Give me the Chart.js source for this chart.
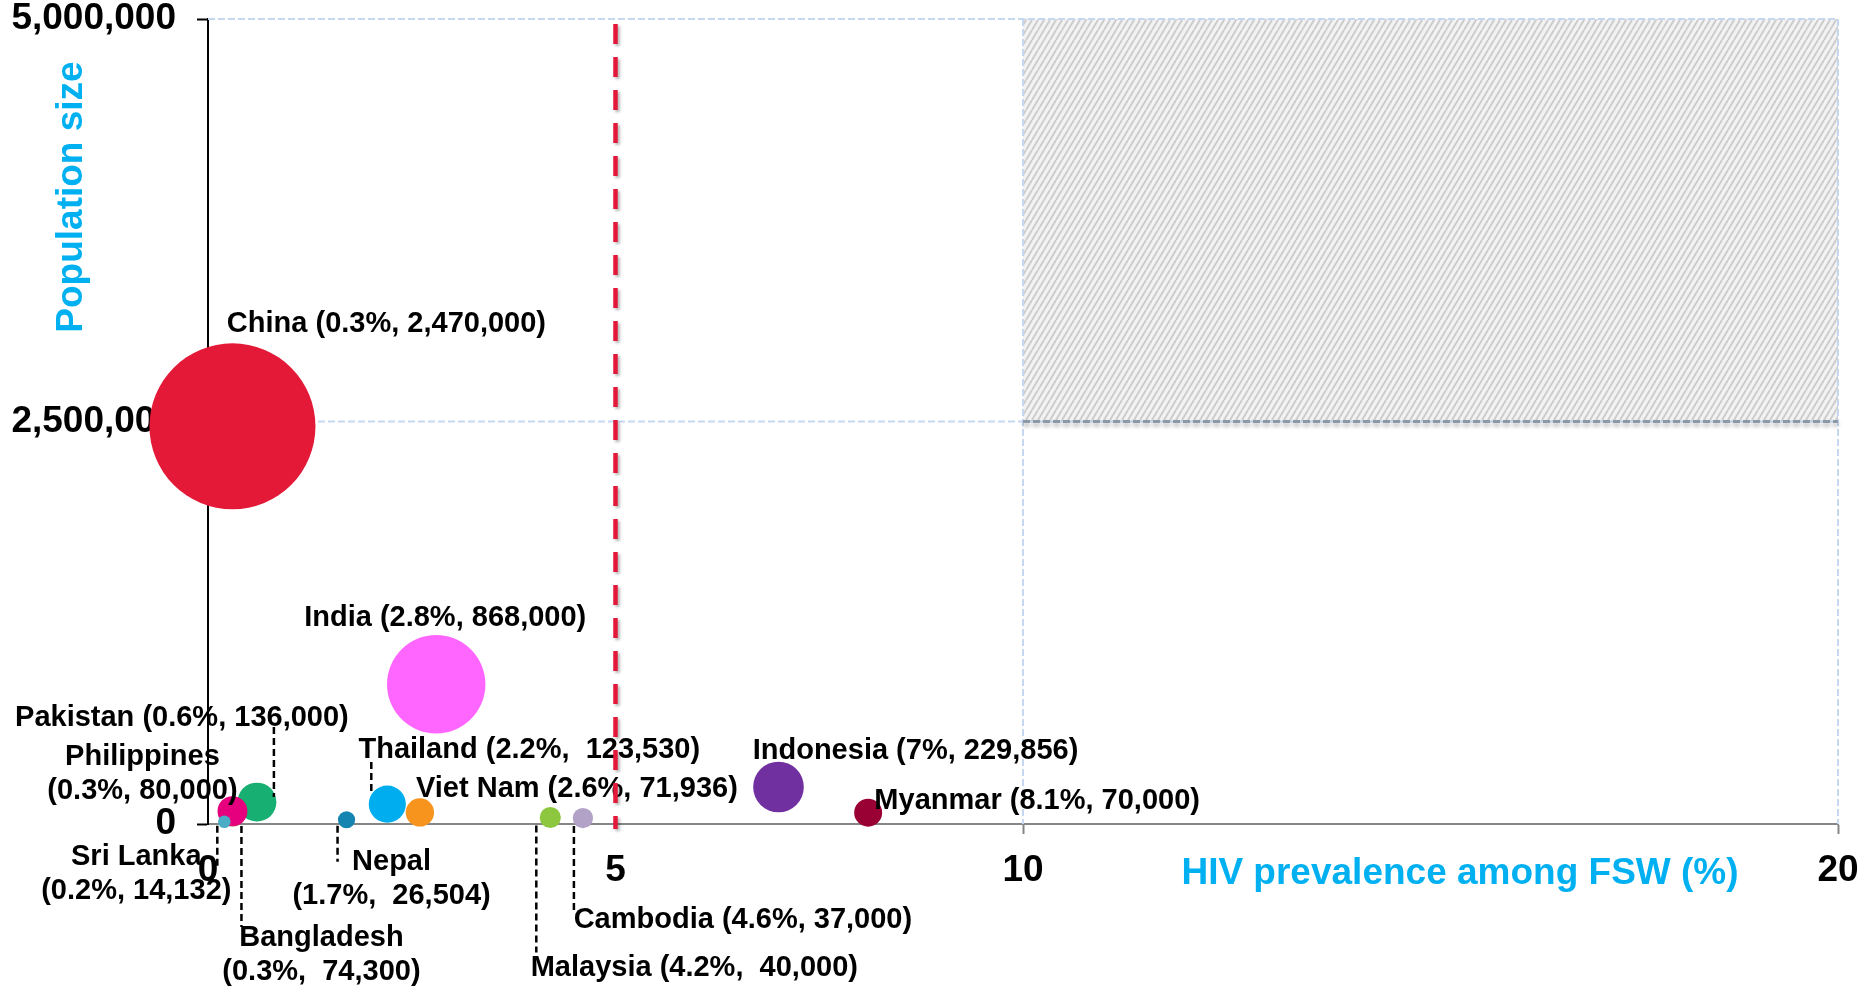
<!DOCTYPE html>
<html>
<head>
<meta charset="utf-8">
<title>FSW population size and HIV prevalence</title>
<script src="https://cdn.jsdelivr.net/npm/chart.js@4.4.0/dist/chart.umd.min.js"></script>
<style>
  html, body { margin: 0; padding: 0; background: #fff; }
  #wrap { position: relative; width: 1864px; height: 995px; }
</style>
</head>
<body>
<div id="wrap"><canvas id="fswChart"></canvas></div>
<script>
// data
const countries = ["China", "India", "Pakistan", "Bangladesh", "Philippines", "Sri Lanka", "Nepal", "Thailand", "Viet Nam", "Malaysia", "Cambodia", "Indonesia", "Myanmar"];
const prevalence = [0.3, 2.8, 0.6, 0.3, 0.3, 0.2, 1.7, 2.2, 2.6, 4.2, 4.6, 7, 8.1];
const popSize = [2470000, 868000, 136000, 74300, 80000, 14132, 26504, 123530, 71936, 40000, 37000, 229856, 70000];

const xTicks = [0, 5, 10, 20];
const yTicks = [0, 2500000, 5000000];
const gridX = [10, 20];
const gridY = [2500000, 5000000];
const zoneX = [10, 20];
const zoneY = [2500000, 5000000];
const thresholdX = 5;

const xTitle = "HIV prevalence among FSW (%)";
const yTitle = "Population size";

const bubbleColours = ["#E31937", "#FF66FF", "#17AF72", "#C0504D", "#E6007E", "#4BACC6", "#1584B0", "#00AEEF", "#F7941D", "#8DC63F", "#B3A2C7", "#7030A0", "#990033"];

const FONT = "'Liberation Sans', Arial, sans-serif";
const skyBlue = "#00B0F0";
const gridBlue = "#C6D8F0";

// where each label sits, relative to its bubble (px)
const labelSpots = {
  "China":       { dx: 154, dy: -102 },
  "India":       { dx: 9, dy: -66 },
  "Pakistan":    { dx: -75, dy: -84, leader: [17, -75, -5] },
  "Bangladesh":  { dx: 89, dy: 126, split: true, wide: true, leader: [9, 14, 115] },
  "Philippines": { dx: -90, dy: -54, split: true },
  "Sri Lanka":   { dx: -88, dy: 35, split: true, leader: [-7, 4, 48] },
  "Nepal":       { dx: 45, dy: 42, split: true, wide: true, leader: [-9, 6, 42] },
  "Thailand":    { dx: 142, dy: -54, wide: true, leader: [-16, -42, -11] },
  "Viet Nam":    { dx: 157, dy: -23 },
  "Malaysia":    { dx: 144, dy: 150, wide: true, leader: [-14, 8, 135] },
  "Cambodia":    { dx: 160, dy: 102, leader: [-9, 8, 95] },
  "Indonesia":   { dx: 137, dy: -36 },
  "Myanmar":     { dx: 169, dy: -12 }
};

// bubble area follows population size
const maxRadius = 83;
const biggest = Math.max(...popSize);
const bubbles = countries.map((c, i) => ({
  x: prevalence[i],
  y: popSize[i],
  r: maxRadius * Math.sqrt(popSize[i] / biggest)
}));

function labelLines(i) {
  const spot = labelSpots[countries[i]];
  const tail = "(" + prevalence[i] + "%," + (spot.wide ? "  " : " ") + popSize[i].toLocaleString("en-US") + ")";
  return spot.split ? [countries[i], tail] : [countries[i] + " " + tail];
}

function hatchPattern(ctx) {
  const tile = document.createElement("canvas");
  tile.width = 6;
  tile.height = 10;
  const t = tile.getContext("2d");
  t.fillStyle = "#f3f3f3";
  t.fillRect(0, 0, 6, 10);
  t.strokeStyle = "#cdcdcd";
  t.lineWidth = 2;
  t.beginPath();
  for (let k = -1; k <= 1; k++) {
    t.moveTo(k * 6, 10);
    t.lineTo(k * 6 + 6, 0);
  }
  t.stroke();
  return ctx.createPattern(tile, "repeat");
}

function seg(ctx, x1, y1, x2, y2) {
  ctx.beginPath();
  ctx.moveTo(x1, y1);
  ctx.lineTo(x2, y2);
  ctx.stroke();
}

const overlay = {
  id: "overlay",
  beforeDatasetsDraw(chart) {
    const { ctx, chartArea: area, scales: { x, y } } = chart;
    const zl = x.getPixelForValue(zoneX[0]), zr = x.getPixelForValue(zoneX[1]);
    const zt = y.getPixelForValue(zoneY[1]), zb = y.getPixelForValue(zoneY[0]);

    ctx.save();
    ctx.fillStyle = hatchPattern(ctx);
    ctx.fillRect(zl, zt, zr - zl, zb - zt);

    ctx.strokeStyle = gridBlue;
    ctx.lineWidth = 2;
    ctx.setLineDash([7, 3]);
    gridY.forEach(v => {
      const py = y.getPixelForValue(v);
      seg(ctx, area.left, py, area.right, py);
    });
    gridX.forEach(v => {
      const px = x.getPixelForValue(v);
      seg(ctx, px, area.top, px, area.bottom);
    });

    // shadowed lower edge of the zone
    ctx.shadowColor = "rgba(0,0,0,0.35)";
    ctx.shadowBlur = 4;
    ctx.shadowOffsetY = 3;
    ctx.strokeStyle = "#8D99A8";
    ctx.lineWidth = 3;
    seg(ctx, zl, zb, zr, zb);
    ctx.restore();
  },
  afterDatasetsDraw(chart) {
    const { ctx, chartArea: area, scales: { x, y } } = chart;
    const pts = chart.getDatasetMeta(0).data;

    ctx.save();
    // leader lines
    ctx.strokeStyle = "#000";
    ctx.lineWidth = 2.5;
    ctx.setLineDash([7, 4]);
    countries.forEach((c, i) => {
      const l = labelSpots[c].leader;
      if (!l) return;
      const p = pts[i];
      seg(ctx, p.x + l[0], p.y + l[1], p.x + l[0], p.y + l[2]);
    });
    ctx.setLineDash([]);

    // country labels
    ctx.fillStyle = "#000";
    ctx.font = "bold 29px " + FONT;
    ctx.textAlign = "center";
    ctx.textBaseline = "middle";
    countries.forEach((c, i) => {
      const s = labelSpots[c];
      const p = pts[i];
      labelLines(i).forEach((txt, k) => {
        ctx.fillText(txt, p.x + s.dx, p.y + s.dy + k * 34);
      });
    });

    // axis titles
    ctx.fillStyle = skyBlue;
    ctx.font = "bold 37px " + FONT;
    ctx.fillText(xTitle, 1460, 874);
    ctx.save();
    ctx.translate(72, 197);
    ctx.rotate(-Math.PI / 2);
    ctx.fillText(yTitle, 0, 0);
    ctx.restore();

    // 5% threshold line
    const tx = x.getPixelForValue(thresholdX);
    ctx.strokeStyle = "#E2193A";
    ctx.lineWidth = 4.5;
    ctx.setLineDash([20, 13]);
    ctx.shadowColor = "rgba(0,0,0,0.3)";
    ctx.shadowBlur = 3;
    ctx.shadowOffsetX = 2;
    ctx.shadowOffsetY = 2;
    seg(ctx, tx, area.top + 5, tx, area.bottom + 5);
    ctx.restore();
  }
};

const tickFont = { family: FONT, size: 37, weight: "bold", lineHeight: 1 };

new Chart(document.getElementById("fswChart"), {
  type: "bubble",
  data: {
    datasets: [{
      data: bubbles,
      backgroundColor: bubbleColours,
      borderWidth: 0,
      hoverRadius: 0,
      clip: false
    }]
  },
  options: {
    responsive: true,
    maintainAspectRatio: false,
    animation: false,
    events: [],
    layout: { autoPadding: false, padding: { top: 19, right: 26, bottom: 0, left: 0 } },
    plugins: {
      legend: { display: false },
      tooltip: { enabled: false }
    },
    scales: {
      x: {
        type: "linear",
        min: 0,
        max: 20,
        afterBuildTicks: s => { s.ticks = xTicks.map(v => ({ value: v })); },
        afterFit: s => {
          s.height = 171;
          s.paddingLeft = 0;
          s.paddingRight = 0;
        },
        grid: {
          drawOnChartArea: false,
          tickLength: 10,
          tickWidth: 2,
          color: "transparent",
          tickColor: c => gridX.includes(c.tick.value) ? "#868686" : "transparent"
        },
        border: { color: "#868686", width: 2 },
        ticks: {
          color: "#000",
          font: tickFont,
          padding: 18,
          maxRotation: 0,
          autoSkip: false
        }
      },
      y: {
        type: "linear",
        min: 0,
        max: 5000000,
        afterBuildTicks: s => { s.ticks = yTicks.map(v => ({ value: v })); },
        afterFit: s => {
          s.width = 208;
          s.paddingTop = 0;
          s.paddingBottom = 0;
        },
        grid: {
          drawOnChartArea: false,
          tickLength: 11,
          tickWidth: 2,
          color: "transparent",
          tickColor: "#000"
        },
        border: { color: "#000", width: 2 },
        ticks: {
          color: "#000",
          font: tickFont,
          padding: 21,
          callback: v => v.toLocaleString("en-US")
        }
      }
    }
  },
  plugins: [overlay]
});
</script>
</body>
</html>
